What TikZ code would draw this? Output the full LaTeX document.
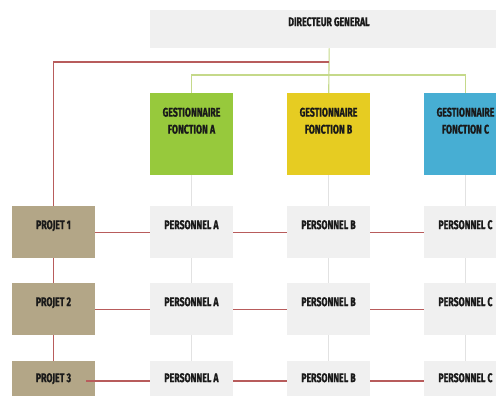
\documentclass[tikz,border=0pt]{standalone}
\usepackage{fontspec}
\newfontfamily\condfont[FakeStretch=0.7, BoldFeatures={FakeBold=1}]{Fira Sans}
\definecolor{cgreen}{HTML}{97C93C}
\definecolor{cyellow}{HTML}{E6CC22}
\definecolor{cblue}{HTML}{47AED3}
\definecolor{ctan}{HTML}{B3A687}
\definecolor{cgray}{HTML}{F0F0F0}
\definecolor{cred}{HTML}{B85C5C}
\definecolor{cgline}{HTML}{C5D98A}
\definecolor{cgrayline}{HTML}{E2E2E2}
\definecolor{ctext}{HTML}{1A1A1A}
\begin{document}
\begin{tikzpicture}[x=1pt,y=-1pt,
  boxbase/.style={draw=none, inner sep=0pt, anchor=north west},
  smallbox/.style={boxbase, minimum width=83pt, minimum height=52pt},
  bigbox/.style={boxbase, minimum width=83pt, minimum height=82pt},
  lbl/.style={inner sep=0pt, anchor=north, text=ctext, align=center,
    font=\condfont\bfseries\fontsize{12.5}{17}\selectfont},
  redline/.style={draw=cred, line width=1.1pt},
  greenline/.style={draw=cgline, line width=1.1pt},
  grayline/.style={draw=cgrayline, line width=0.8pt}]
\path[use as bounding box, clip] (0,0) rectangle (496,396);
\fill[white] (0,0) rectangle (496,396);

% director
\node[boxbase, fill=cgray, minimum width=358pt, minimum height=38pt] (dg) at (150,10) {};
\node[lbl] (dgt) at (329,17) {DIRECTEUR GENERAL};

% gestionnaires
\node[bigbox, fill=cgreen] (gA) at (150,93) {};
\node[bigbox, fill=cyellow] (gB) at (287,93) {};
\node[bigbox, fill=cblue] (gC) at (424,93) {};
\node[lbl] (gAt) at (191.5,107.5) {GESTIONNAIRE\\FONCTION A};
\node[lbl] (gBt) at (328.5,107.5) {GESTIONNAIRE\\FONCTION B};
\node[lbl] (gCt) at (465.5,107.5) {GESTIONNAIRE\\FONCTION C};

% projets
\node[smallbox, fill=ctan] (p1) at (12,206) {};
\node[smallbox, fill=ctan] (p2) at (12,283) {};
\node[smallbox, fill=ctan] (p3) at (12,361) {};
\node[lbl] (p1t) at (53.5,220) {PROJET 1};
\node[lbl] (p2t) at (53.5,297) {PROJET 2};
\node[lbl] (p3t) at (53.5,373) {PROJET 3};

% personnel
\foreach \r/\y/\ty in {1/206/220, 2/283/297, 3/361/373}{
  \node[smallbox, fill=cgray] (a\r) at (150,\y) {};
  \node[smallbox, fill=cgray] (b\r) at (287,\y) {};
  \node[smallbox, fill=cgray] (c\r) at (424,\y) {};
  \node[lbl] (a\r t) at (191.5,\ty) {PERSONNEL A};
  \node[lbl] (b\r t) at (328.5,\ty) {PERSONNEL B};
  \node[lbl] (c\r t) at (465.5,\ty) {PERSONNEL C};
}

% gray vertical lines
\foreach \c/\g in {a/gA, b/gB, c/gC}{
  \draw[grayline] (\g.south) -- (\c1.north);
  \draw[grayline] (\c1.south) -- (\c2.north);
  \draw[grayline] (\c2.south) -- (\c3.north);
}

% green connectors
\coordinate (gl) at (0,75);
\draw[greenline] (dg.south) -- (gB.north);
\draw[greenline] (gA.north) -- (gA.north |- gl) -- (gC.north |- gl) -- (gC.north);

% red connectors
\coordinate (rl) at (0,62);
\draw[redline] (dg.south |- rl) -- (p1.north |- rl) -- (p1.north);
\draw[redline] (p1.south) -- (p2.north);
\draw[redline] (p2.south) -- (p3.north);
\draw[redline] (p1.east) -- (a1.west);
\draw[redline] (a1.east) -- (b1.west);
\draw[redline] (b1.east) -- (c1.west);
\draw[redline] (p2.east) -- (a2.west);
\draw[redline] (a2.east) -- (b2.west);
\draw[redline] (b2.east) -- (c2.west);
\coordinate (r3) at (0,381);
\draw[redline] ([xshift=-9pt]p3.east |- r3) -- (a3.west |- r3);
\draw[redline] (a3.east |- r3) -- (b3.west |- r3);
\draw[redline] (b3.east |- r3) -- (c3.west |- r3);
\end{tikzpicture}
\end{document}
